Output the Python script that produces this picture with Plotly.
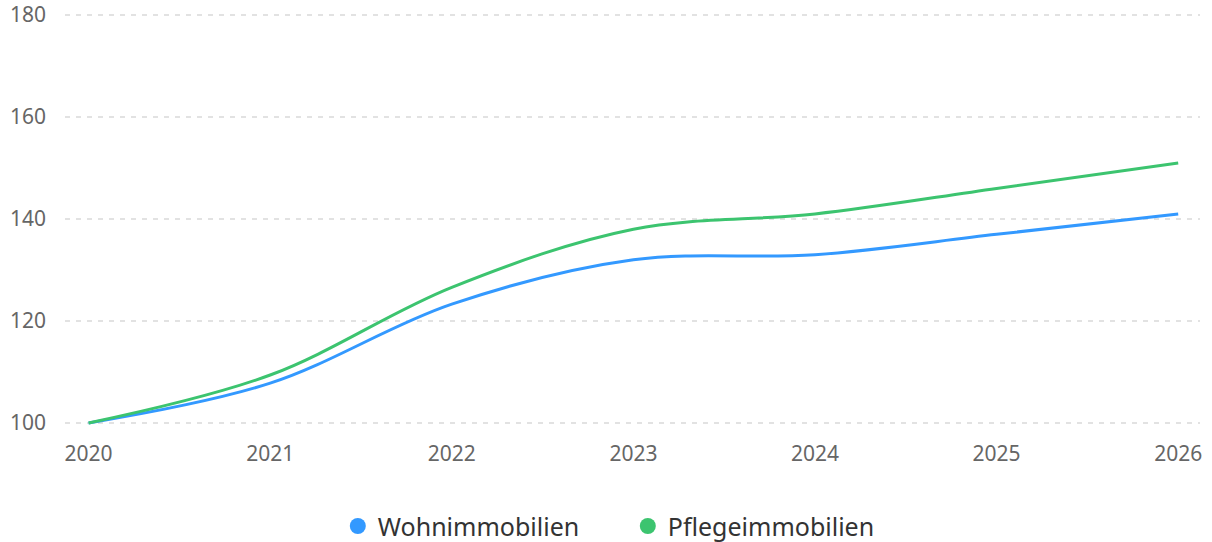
import plotly.graph_objects as go

years = [2020, 2021, 2022, 2023, 2024, 2025, 2026]
wohn = [100, 107.8, 123.3, 132, 133, 137, 141]
pflege = [100, 109.4, 126.6, 138, 141, 146, 151]
tick_years = ["2020", "2021", "2022", "2023", "2024", "2025", "2026"]
series_names = ["Wohnimmobilien", "Pflegeimmobilien"]
colors = ["#3399ff", "#3cc46f"]

fig = go.Figure()
for name, vals, col in zip(series_names, [wohn, pflege], colors):
    fig.add_trace(go.Scatter(x=years, y=vals, name=name, mode="lines", showlegend=False,
                             line=dict(color=col, width=3, shape="spline", smoothing=1)))
# legend entries with circle markers
for name, col in zip(series_names, colors):
    fig.add_trace(go.Scatter(x=[None], y=[None], name=name, mode="markers",
                             marker=dict(color=col, size=16, symbol="circle"),
                             showlegend=True))

fig.update_layout(
    width=1212, height=542,
    margin=dict(l=65, r=12, t=13, b=117, autoexpand=False),
    paper_bgcolor="white", plot_bgcolor="white",
    font=dict(family="Noto Sans, Open Sans, sans-serif", size=21, color="#666"),
    legend=dict(orientation="h", xref="container", x=0.518, xanchor="center",
                y=-0.19, yanchor="top",
                font=dict(size=25, color="#333"), itemsizing="trace",
                tracegroupgap=0, itemwidth=30, entrywidth=245, entrywidthmode="pixels"),
)
fig.update_xaxes(range=[2019.87, 2026.12], tickvals=years, ticktext=tick_years,
                 showgrid=False, zeroline=False, showline=False, ticks="",
                 automargin=False, ticklabelstandoff=14,
                 tickfont=dict(size=21, color="#666"))
fig.update_yaxes(range=[99.6, 180.4], tickvals=[100, 120, 140, 160, 180],
                 showgrid=True, gridcolor="#e2e2e2", griddash="5px,6px", gridwidth=1.5,
                 zeroline=False, showline=False, ticks="", automargin=False,
                 ticklabelstandoff=18, tickfont=dict(size=21, color="#666"))

fig.write_html("out.html", config={"displayModeBar": False},
               post_script="document.body.style.margin='0';")
